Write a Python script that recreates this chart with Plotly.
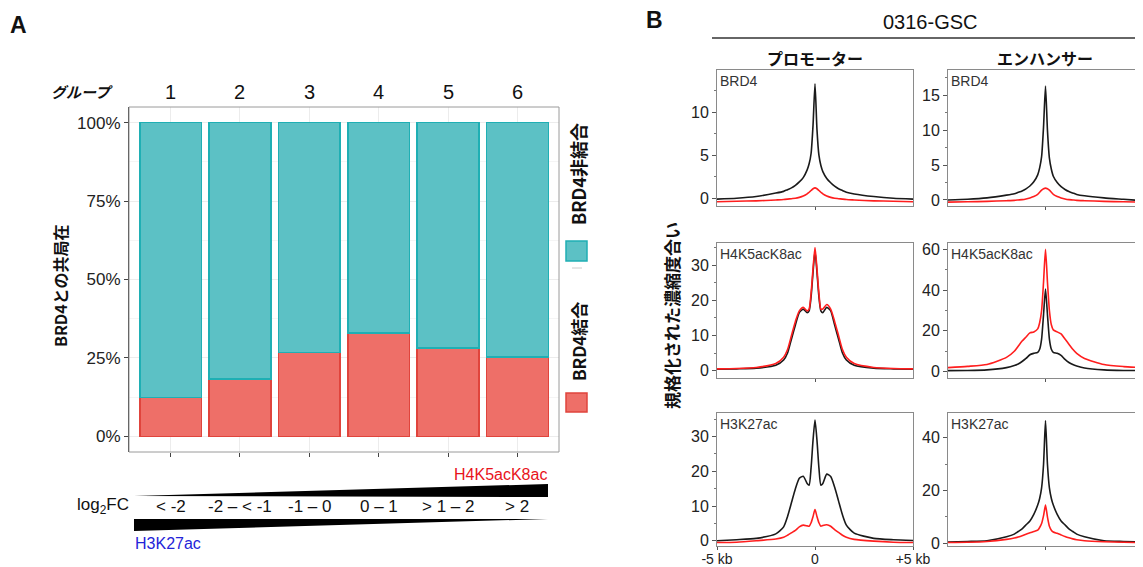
import plotly.graph_objects as go

# ---------------- data ----------------
GROUPS = [1, 2, 3, 4, 5, 6]
GROUP_LABELS = ["1", "2", "3", "4", "5", "6"]
FC_LABELS = ["< -2", "-2 – < -1", "-1 – 0", "0 – 1", "> 1 – 2", "> 2"]
BOUND = [0.124, 0.182, 0.268, 0.330, 0.282, 0.253]          # BRD4結合
UNBOUND = [1 - v for v in BOUND]                               # BRD4非結合
Y_TICKS = [0, 0.25, 0.5, 0.75, 1.0]
Y_TICK_TEXT = ["0%", "25%", "50%", "75%", "100%"]

X_KB = [-5, -4, -3, -2, -1.6, -1.4, -1.2, -1.0, -0.8, -0.6, -0.4, -0.3, -0.2, -0.1, 0,
        0.1, 0.2, 0.3, 0.4, 0.6, 0.8, 1.0, 1.2, 1.4, 1.6, 2, 3, 4, 5]

P_BRD4_BLACK = [-0.1, 0.0, 0.2, 0.6, 0.8, 1.0, 1.2, 1.5, 1.9, 2.4, 3.3, 4.0, 5.2, 8.5, 13.3,
                8.0, 5.0, 3.8, 3.1, 2.3, 1.8, 1.4, 1.1, 0.9, 0.7, 0.5, 0.2, 0.0, -0.1]
P_BRD4_RED = [-0.4, -0.35, -0.3, -0.2, -0.15, -0.1, -0.05, 0.0, 0.1, 0.25, 0.5, 0.7, 0.9, 1.1, 1.2,
              1.1, 0.9, 0.7, 0.5, 0.25, 0.1, 0.0, -0.05, -0.1, -0.15, -0.2, -0.3, -0.35, -0.4]
E_BRD4_BLACK = [0.0, 0.1, 0.3, 0.7, 0.9, 1.1, 1.3, 1.6, 2.0, 2.6, 3.6, 4.6, 6.2, 10.5, 16.3,
                10.0, 6.0, 4.4, 3.4, 2.5, 1.9, 1.5, 1.2, 1.0, 0.8, 0.6, 0.3, 0.1, -0.1]
E_BRD4_RED = [-0.3, -0.25, -0.2, -0.1, -0.05, 0.0, 0.05, 0.15, 0.3, 0.5, 0.8, 1.1, 1.4, 1.6, 1.7,
              1.6, 1.4, 1.1, 0.8, 0.5, 0.3, 0.15, 0.05, 0.0, -0.05, -0.1, -0.2, -0.25, -0.3]
P_H4_BLACK = [0.4, 0.5, 0.7, 1.5, 3.0, 5.0, 9.0, 13.0, 16.5, 17.5, 16.5, 17.0, 21.0, 28.0, 34.0,
              28.0, 21.0, 17.0, 16.5, 18.0, 17.0, 13.0, 9.0, 5.0, 3.0, 1.5, 0.7, 0.5, 0.4]
P_H4_RED = [0.5, 0.6, 0.9, 2.0, 3.8, 6.0, 10.0, 14.0, 17.0, 18.0, 17.0, 17.5, 22.0, 29.0, 35.0,
            29.0, 22.0, 17.5, 17.5, 18.8, 17.5, 14.0, 10.0, 6.0, 3.8, 2.0, 0.9, 0.6, 0.5]
E_H4_BLACK = [0.5, 0.6, 0.9, 2.0, 3.0, 3.8, 5.0, 6.5, 8.3, 9.0, 9.5, 11.0, 16.0, 28.0, 40.5,
              28.0, 16.0, 11.0, 9.5, 9.0, 8.0, 6.0, 4.5, 3.5, 2.8, 1.8, 0.9, 0.6, 0.5]
E_H4_RED = [2.0, 2.6, 3.5, 7.0, 10.0, 12.5, 15.0, 17.0, 19.0, 19.5, 21.0, 24.0, 30.0, 44.0, 60.0,
            44.0, 30.0, 23.0, 20.5, 19.5, 18.5, 16.0, 13.5, 11.0, 9.0, 6.5, 3.5, 2.5, 2.0]
P_H3_BLACK = [0.0, 0.3, 0.7, 2.0, 4.0, 7.0, 11.0, 15.0, 18.0, 18.6, 16.5, 16.0, 21.0, 29.0, 34.8,
              29.0, 21.0, 16.0, 16.5, 19.2, 18.5, 15.5, 11.5, 7.5, 4.5, 2.2, 0.7, 0.3, 0.1]
P_H3_RED = [-0.5, -0.4, 0.0, 0.5, 1.0, 1.6, 2.3, 3.0, 4.0, 4.5, 4.3, 4.2, 5.2, 7.0, 9.0,
            7.0, 5.2, 4.2, 4.4, 4.6, 4.2, 3.2, 2.4, 1.6, 1.0, 0.4, -0.1, -0.4, -0.5]
E_H3_BLACK = [0.5, 0.7, 1.0, 2.5, 3.5, 4.5, 5.5, 7.0, 8.5, 11.0, 14.5, 17.0, 21.0, 30.0, 46.5,
              30.0, 21.0, 17.0, 14.5, 11.0, 8.5, 7.0, 5.5, 4.5, 3.5, 2.5, 1.0, 0.7, 0.5]
E_H3_RED = [0.3, 0.4, 0.7, 1.5, 2.0, 2.4, 2.9, 3.5, 4.0, 4.5, 5.0, 6.0, 7.5, 10.5, 14.5,
            10.0, 6.5, 5.0, 4.3, 3.8, 3.2, 2.6, 2.1, 1.7, 1.4, 1.0, 0.6, 0.4, 0.3]

PANELS = [  # (black, red, label, y range, y ticks)
    (P_BRD4_BLACK, P_BRD4_RED, "BRD4", [-0.9, 14.9], [0, 5, 10]),
    (E_BRD4_BLACK, E_BRD4_RED, "BRD4", [-0.86, 18.6], [0, 5, 10, 15]),
    (P_H4_BLACK, P_H4_RED, "H4K5acK8ac", [-2.1, 36.3], [0, 10, 20, 30]),
    (E_H4_BLACK, E_H4_RED, "H4K5acK8ac", [-3.1, 63.1], [0, 20, 40, 60]),
    (P_H3_BLACK, P_H3_RED, "H3K27ac", [-1.5, 36.8], [0, 10, 20, 30]),
    (E_H3_BLACK, E_H3_RED, "H3K27ac", [-1.0, 49.4], [0, 20, 40]),
]

OFF = 8                      # page body margin in the browser
W, H = 1143 - OFF, 567 - OFF
def px(x): return (x - OFF) / W
def py(y): return 1 - (y - OFF) / H

FONT = "Liberation Sans, Arial, sans-serif"
JFONT = "Noto Sans CJK JP, sans-serif"
TEAL, TEAL_EDGE = "#5CC1C5", "#1FAFB4"
RED, RED_EDGE = "#EE6F68", "#E0443C"

fig = go.Figure()

# ---------------- panel A bars ----------------
fig.add_trace(go.Bar(x=GROUPS, y=BOUND, width=0.89, marker=dict(color=RED, line=dict(color=RED_EDGE, width=1.5)),
                     xaxis="x", yaxis="y", showlegend=False, hoverinfo="skip"))
fig.add_trace(go.Bar(x=GROUPS, y=UNBOUND, width=0.89, marker=dict(color=TEAL, line=dict(color=TEAL_EDGE, width=1.5)),
                     xaxis="x", yaxis="y", showlegend=False, hoverinfo="skip"))

layout = dict(
    width=W, height=H, margin=dict(l=0, r=0, t=0, b=0, pad=0, autoexpand=False),
    paper_bgcolor="white", plot_bgcolor="white", barmode="stack", showlegend=False,
    font=dict(family=FONT, color="#111"),
    xaxis=dict(domain=[px(129), px(559)], range=[0.4, 6.6], tickvals=GROUPS, ticktext=[""] * 6,
               ticks="outside", ticklen=4, tickcolor="#444", showgrid=True, gridcolor="#ececec",
               zeroline=False, showline=False, fixedrange=True, automargin=False),
    yaxis=dict(domain=[py(452), py(107)], range=[-0.05, 1.05], tickvals=Y_TICKS, ticktext=Y_TICK_TEXT,
               ticks="outside", ticklen=4, tickcolor="#444", tickfont=dict(size=17, color="#222"),
               showgrid=True, gridcolor="#ececec", zeroline=False, showline=True, linecolor="#333",
               linewidth=1, minor=dict(showgrid=True, gridcolor="#f5f5f5", dtick=0.125, tick0=0),
               fixedrange=True, automargin=False),
)

# ---------------- panel B profiles ----------------
col_dom = [[px(717), px(913)], [px(948), 1.0]]
row_dom = [[py(206), py(70)], [py(378), py(243)], [py(546), py(413)]]
annotations = []
for i, (blk, red, lab, yr, yt) in enumerate(PANELS):
    r, c = divmod(i, 2)
    n = i + 2
    xa, ya = f"x{n}", f"y{n}"
    fig.add_trace(go.Scatter(x=X_KB, y=blk, mode="lines", line=dict(color="#1a1a1a", width=1.6, shape="spline", smoothing=0.6),
                             xaxis=xa, yaxis=ya, showlegend=False, hoverinfo="skip"))
    fig.add_trace(go.Scatter(x=X_KB, y=red, mode="lines", line=dict(color="#FF1E1E", width=1.6, shape="spline", smoothing=0.6),
                             xaxis=xa, yaxis=ya, showlegend=False, hoverinfo="skip"))
    if r == 2 and c == 0:
        tv, tt = [-5, 0, 5], ["-5 kb", "0", "+5 kb"]
    else:
        tv, tt = [0], [" "]
    layout[f"xaxis{n}"] = dict(domain=col_dom[c], anchor=ya, range=[-5, 5], tickvals=tv, ticktext=tt,
                               ticks="outside", ticklen=3, tickcolor="#555", tickfont=dict(size=14, color="#222"),
                               ticklabelstandoff=-3,
                               showgrid=False, zeroline=False, showline=True, mirror=True, linecolor="#8a8a8a",
                               linewidth=1, fixedrange=True, automargin=False)
    step = yt[1] - yt[0]
    layout[f"yaxis{n}"] = dict(domain=row_dom[r], anchor=xa, range=yr, tickvals=yt,
                               ticks="outside", ticklen=4, tickcolor="#555", tickfont=dict(size=16, color="#222"),
                               showgrid=False, zeroline=False, showline=True, mirror=(c == 0), linecolor="#8a8a8a",
                               linewidth=1, minor=dict(ticks="outside", ticklen=2, dtick=step / 2, tick0=0, tickcolor="#777"),
                               fixedrange=True, automargin=False)
    annotations.append(dict(text=lab, xref=f"{xa} domain", yref=f"{ya} domain", x=0.005, y=0.995,
                            xanchor="left", yanchor="top", showarrow=False, font=dict(size=14, color="#333")))

# ---------------- texts ----------------
def ann(text, x, y, size, color="#111", family=FONT, xanchor="center", yanchor="middle", angle=0, xref="paper"):
    annotations.append(dict(text=text, x=x, y=y, xref=xref, yref="paper", xanchor=xanchor, yanchor=yanchor,
                            showarrow=False, textangle=angle, font=dict(size=size, color=color, family=family)))

ann("<b>A</b>", px(18), py(25), 23, family="Liberation Sans Narrow, Liberation Sans, sans-serif")
ann("<b>B</b>", px(654), py(20), 23, family="Liberation Sans Narrow, Liberation Sans, sans-serif")
ann("<b><i>グループ</i></b>", px(82), py(92), 15, family=JFONT)
for g, lab in zip(GROUPS, GROUP_LABELS):
    ann(lab, g, py(92), 20, xref="x")
for g, lab in zip(GROUPS, FC_LABELS):
    ann(lab, g, py(506), 17, xref="x")
ann("log<sub>2</sub>FC", px(103), py(506), 17)
ann("H4K5acK8ac", px(549), py(474), 16, color="#E8141B", xanchor="right")
ann("H3K27ac", px(133), py(543), 16, color="#2424D8", xanchor="left")
ann("<b>BRD4との共局在</b>", px(60), py(286), 16, family=JFONT, angle=-90)
ann("<b>BRD4非結合</b>", px(578), py(174), 18, family=JFONT, angle=-90)
ann("<b>BRD4結合</b>", px(578), py(342), 17, family=JFONT, angle=-90)
ann("0316-GSC", px(930), py(22), 20)
ann("<b>プロモーター</b>", px(815), py(58), 16, family=JFONT)
ann("<b>エンハンサー</b>", px(1045), py(58), 16, family=JFONT)
ann("<b>規格化された濃縮度合い</b>", px(672), py(316), 17, family=JFONT, angle=-90)

layout["annotations"] = annotations

# ---------------- shapes ----------------
def rect(x0, y0, x1, y1, fill, line, lw=1):
    return dict(type="rect", xref="paper", yref="paper", x0=px(x0), x1=px(x1), y0=py(y1), y1=py(y0),
                fillcolor=fill, line=dict(color=line, width=lw), layer="above")

def poly(pts, fill):
    d = "M " + " L ".join(f"{px(a):.5f},{py(b):.5f}" for a, b in pts) + " Z"
    return dict(type="path", xref="paper", yref="paper", path=d, fillcolor=fill, line=dict(width=0))

shapes = [
    rect(129, 107, 559, 452, "rgba(0,0,0,0)", "#9a9a9a"),
    rect(566, 241, 587, 261, TEAL, TEAL_EDGE, 1.5),
    rect(566, 393, 587, 412, RED, RED_EDGE, 1.5),
    dict(type="line", xref="paper", yref="paper", x0=px(572), x1=px(582), y0=py(268), y1=py(268),
         line=dict(color="#cccccc", width=1)),
    dict(type="line", xref="paper", yref="paper", x0=px(712), x1=1.0, y0=py(38), y1=py(38),
         line=dict(color="#333", width=1.5)),
    poly([(134, 496), (548, 484), (548, 497)], "#000"),
    poly([(134, 519), (548, 519), (134, 531)], "#000"),
]
layout["shapes"] = shapes

fig.update_layout(**layout)
fig.write_html("out.html")
